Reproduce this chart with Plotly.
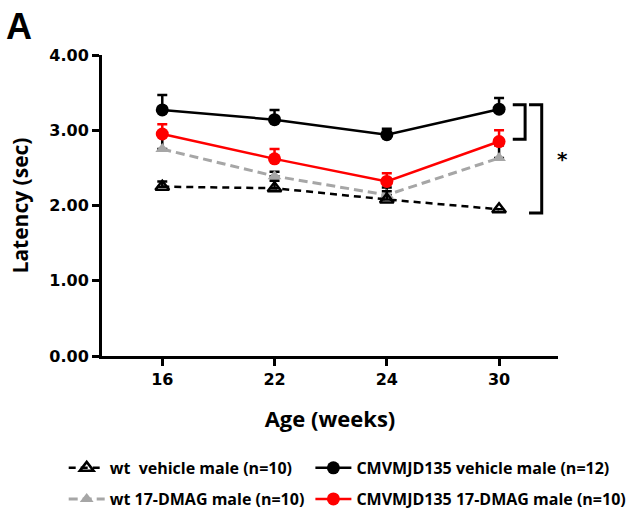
import plotly.graph_objects as go

# Rotarod-style latency across ages, four groups (mean + SEM, upper bars only)
ages = ["16", "22", "24", "30"]
xpos = [0, 1, 2, 3]

wt_vehicle = [2.25, 2.23, 2.08, 1.95]
wt_vehicle_sem = [0.07, 0.10, 0.11, 0.00]

wt_dmag = [2.75, 2.39, 2.14, 2.63]
wt_dmag_sem = [0.21, 0.06, 0.10, 0.17]

cmv_vehicle = [3.27, 3.14, 2.94, 3.28]
cmv_vehicle_sem = [0.20, 0.13, 0.08, 0.15]

cmv_dmag = [2.95, 2.62, 2.32, 2.85]
cmv_dmag_sem = [0.13, 0.13, 0.11, 0.15]

names = [
    "wt  vehicle male (n=10)",
    "CMVMJD135 vehicle male (n=12)",
    "wt 17-DMAG male (n=10)",
    "CMVMJD135 17-DMAG male (n=10)",
]

GREY = "#A6A6A6"
RED = "#FF0000"
BLACK = "#000000"
TEXT_FONT = "Open Sans"


def err(sem, color):
    return dict(type="data", array=sem, arrayminus=[0] * len(sem),
                symmetric=False, color=color, thickness=2.5, width=5)


fig = go.Figure()

# One legend box per group so the key can sit in a 2x2 grid
fig.add_trace(go.Scatter(
    x=xpos, y=wt_dmag, name=names[2], legend="legend3",
    mode="lines+markers",
    line=dict(color=GREY, width=3, dash="9px,5px"),
    marker=dict(symbol="triangle-up", size=12, color=GREY),
    error_y=err(wt_dmag_sem, BLACK),
))
fig.add_trace(go.Scatter(
    x=xpos, y=wt_vehicle, name=names[0], legend="legend",
    mode="lines+markers",
    line=dict(color=BLACK, width=2.5, dash="7px,5px"),
    marker=dict(symbol="triangle-up-open", size=12, color=BLACK,
                line=dict(width=2.5, color=BLACK)),
    error_y=err(wt_vehicle_sem, BLACK),
))
fig.add_trace(go.Scatter(
    x=xpos, y=cmv_vehicle, name=names[1], legend="legend2",
    mode="lines+markers",
    line=dict(color=BLACK, width=2.5),
    marker=dict(symbol="circle", size=13, color=BLACK),
    error_y=err(cmv_vehicle_sem, BLACK),
))
fig.add_trace(go.Scatter(
    x=xpos, y=cmv_dmag, name=names[3], legend="legend4",
    mode="lines+markers",
    line=dict(color=RED, width=2.5),
    marker=dict(symbol="circle", size=13, color=RED),
    error_y=err(cmv_dmag_sem, RED),
))

tick_font = dict(family="DejaVu Sans", size=16, color=BLACK, weight="bold")
legend_font = dict(family=TEXT_FONT, size=16, color=BLACK, weight="bold")


def legend_box(x, y):
    return dict(
        orientation="h", x=x, y=y, xanchor="left", yanchor="middle",
        font=legend_font, itemwidth=36, bgcolor="rgba(0,0,0,0)",
    )


COL1, COL2 = -0.084, 0.457
ROW1, ROW2 = -0.372, -0.475

fig.update_layout(
    width=629, height=513,
    margin=dict(l=102, r=71, t=55, b=157, autoexpand=False),
    plot_bgcolor="white", paper_bgcolor="white",
    showlegend=True,
    legend=legend_box(COL1, ROW1),
    legend2=legend_box(COL2, ROW1),
    legend3=legend_box(COL1, ROW2),
    legend4=legend_box(COL2, ROW2),
    xaxis=dict(
        range=[-0.537, 3.525], tickmode="array", tickvals=xpos, ticktext=ages,
        showline=True, linecolor=BLACK, linewidth=3, showgrid=False,
        zeroline=False, ticks="outside", ticklen=7, tickwidth=3,
        tickcolor=BLACK, tickfont=tick_font,
        title=dict(text="Age (weeks)",
                   font=dict(family=TEXT_FONT, size=22, color=BLACK,
                             weight="bold"),
                   standoff=24),
    ),
    yaxis=dict(
        range=[0, 4], tickmode="array", tickvals=[0, 1, 2, 3, 4],
        ticktext=["0.00", "1.00", "2.00", "3.00", "4.00"],
        showline=True, linecolor=BLACK, linewidth=3, showgrid=False,
        zeroline=False, ticks="outside", ticklen=7, tickwidth=3,
        tickcolor=BLACK, tickfont=tick_font,
        title=dict(text="Latency (sec)",
                   font=dict(family=TEXT_FONT, size=21, color=BLACK,
                             weight="bold"),
                   standoff=15),
    ),
)


# Significance brackets at the last time point
def bracket(x0, x1, ytop, ybot):
    fig.add_shape(type="path", xref="x", yref="y",
                  path=f"M {x0} {ytop} L {x1} {ytop} L {x1} {ybot} L {x0} {ybot}",
                  line=dict(color=BLACK, width=3))


bracket(3.122, 3.232, 3.34, 2.88)
bracket(3.267, 3.38, 3.34, 1.90)
fig.add_annotation(x=1.009, y=0.655, xref="paper", yref="paper", text="*",
                   showarrow=False, xanchor="center", yanchor="middle",
                   font=dict(family="DejaVu Sans", size=20, color=BLACK,
                             weight="bold"))

# Panel letter
fig.add_annotation(x=-0.215, y=1.17, xref="paper", yref="paper", text="A",
                   showarrow=False, xanchor="left", yanchor="top",
                   font=dict(family="Liberation Sans", size=36, color=BLACK,
                             weight="bold"))

fig.write_html("out.html")
